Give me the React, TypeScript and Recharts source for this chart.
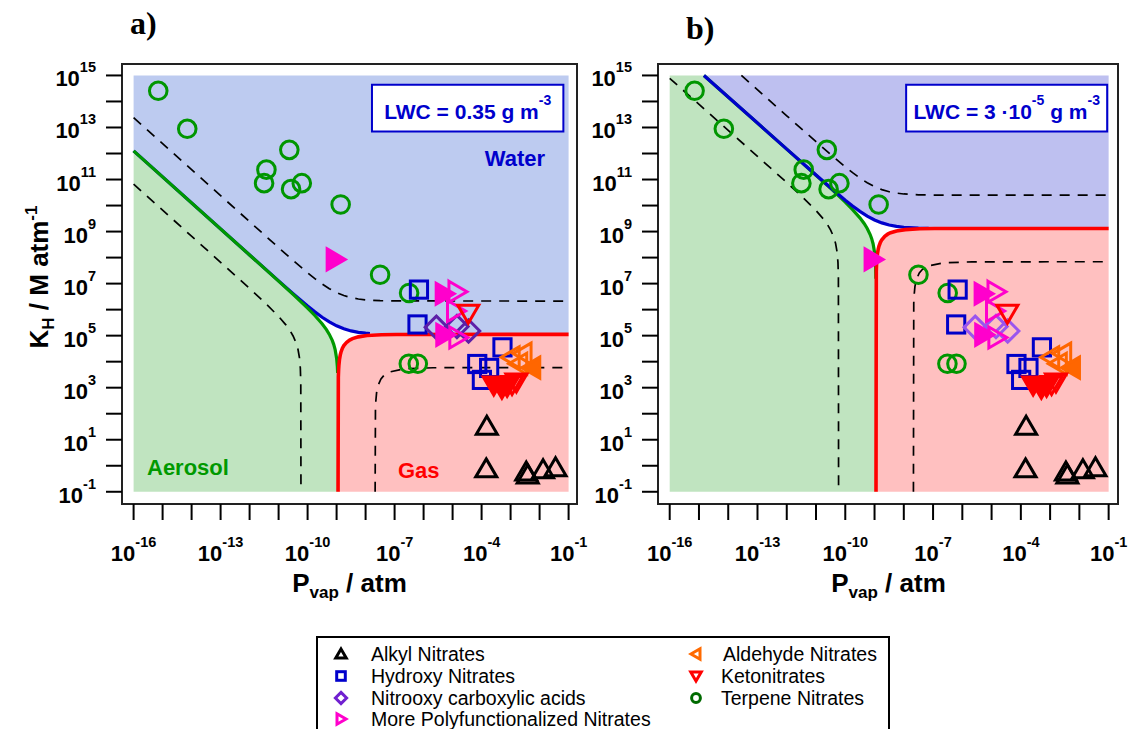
import React, { useLayoutEffect } from "react";
import { ComposedChart, XAxis, YAxis, Area, Line, Scatter, ReferenceArea } from "recharts";

type Pt = [number, number];

// ---------- axis ticks (log10 of the value) ----------
const xTickValues = [-16, -15, -14, -13, -12, -11, -10, -9, -8, -7, -6, -5, -4, -3, -2, -1];
const xTickLabels = [-16, -13, -10, -7, -4, -1];
const yTickValues = [-1, 0, 1, 2, 3, 4, 5, 6, 7, 8, 9, 10, 11, 12, 13, 14, 15];
const yTickLabels = [-1, 1, 3, 5, 7, 9, 11, 13, 15];
const yDomain: [number, number] = [-1.47, 15.44];

// ---------- compounds: [log10 Pvap, log10 KH] ----------
const alkylNitrates: Pt[] = [[-3.82, 1.52], [-3.84, -0.12], [-2.46, -0.24], [-2.41, -0.36], [-1.88, -0.15], [-1.45, -0.08]];
const hydroxyNitrates: Pt[] = [[-6.16, 6.77], [-6.21, 5.43], [-3.28, 4.55], [-4.15, 3.91], [-3.74, 3.76], [-3.99, 3.3]];
const nitrooxyAcids: Pt[] = [[-5.56, 5.32], [-4.85, 5.35], [-4.45, 5.18]];
const polyOpen: Pt[] = [[-4.85, 6.69], [-4.9, 5.95], [-4.82, 4.93]];
const polyFilled: Pt[] = [[-9.05, 7.93], [-5.29, 6.61], [-5.27, 5.03]];
const aldehydeOpen: Pt[] = [[-2.98, 4.17], [-2.57, 4.31], [-2.72, 3.92]];
const aldehydeFilled: Pt[] = [[-2.27, 3.77]];
const ketoOpen: Pt[] = [[-4.46, 5.86], [-2.95, 3.12], [-2.8, 3.22]];
const ketoFilled: Pt[] = [[-3.58, 3.1], [-3.3, 2.98], [-3.12, 3.05]];
const terpeneNitrates: Pt[] = [
  [-15.15, 14.41], [-14.15, 12.95], [-10.63, 12.14], [-11.42, 11.38], [-11.5, 10.86], [-10.2, 10.86],
  [-10.57, 10.63], [-8.86, 10.04], [-7.5, 7.34], [-6.5, 6.64], [-6.51, 3.92], [-6.2, 3.92],
];

// ---------- phase boundaries, panel a (LWC = 0.35 g m-3) ----------
const waterBoundaryA: Pt[] = [[-16, 12.1], [-12, 8.1], [-11, 7.104], [-10.5, 6.612], [-10, 6.137], [-9.75, 5.914], [-9.5, 5.708], [-9.25, 5.526], [-9.0, 5.377], [-8.75, 5.263], [-8.5, 5.182], [-8.25, 5.129], [-8.0, 5.096], [-7.85, 5.083], [-7.5, 5.065], [-7, 5.055], [-1, 5.05]];
const aerosolBoundaryA: Pt[] = [[-16, 12.1], [-12, 8.1], [-11, 7.096], [-10.5, 6.588], [-10, 6.06], [-9.75, 5.775], [-9.5, 5.456], [-9.35, 5.23], [-9.25, 5.048], [-9.15, 4.817], [-9.1, 4.666], [-9.05, 4.463], [-9.0, 4.136], [-8.975, 3.823], [-8.964, 3.565]];
const gasBoundaryA: Pt[] = [[-8.95, -1], [-8.94, 3.407], [-8.93, 3.703], [-8.92, 3.874], [-8.9, 4.086], [-8.875, 4.25], [-8.85, 4.363], [-8.8, 4.516], [-8.75, 4.617], [-8.65, 4.748], [-8.55, 4.83], [-8.45, 4.885], [-8.25, 4.953], [-7.95, 5.004], [-7.45, 5.036], [-6.95, 5.046], [-1, 5.05]];
const waterDashA: Pt[] = [[-16, 13.38], [-13, 10.38], [-11, 8.383], [-10.5, 7.891], [-10, 7.416], [-9.75, 7.193], [-9.5, 6.987], [-9.25, 6.805], [-9.0, 6.656], [-8.75, 6.542], [-8.5, 6.461], [-8.25, 6.408], [-8.0, 6.375], [-7.5, 6.344], [-7.0, 6.334], [-1, 6.329]];
const aerosolDashA: Pt[] = [[-16, 10.821], [-13, 7.82], [-12, 6.814], [-11.5, 6.297], [-11, 5.74], [-10.75, 5.415], [-10.6, 5.18], [-10.5, 4.988], [-10.4, 4.734], [-10.33, 4.468], [-10.28, 4.146], [-10.25, 3.745], [-10.235, 3.193], [-10.229, -1]];
const gasDashA: Pt[] = [[-7.671, -1], [-7.66, 2.169], [-7.65, 2.445], [-7.62, 2.816], [-7.57, 3.088], [-7.47, 3.339], [-7.37, 3.47], [-7.17, 3.606], [-6.67, 3.725], [-5.67, 3.767], [-1, 3.771]];

// ---------- phase boundaries, panel b (LWC = 3e-5 g m-3) ----------
const waterBoundaryB: Pt[] = [[-14.83, 15.0], [-13, 13.17], [-12, 12.17], [-11, 11.174], [-10.5, 10.682], [-10, 10.207], [-9.75, 9.984], [-9.5, 9.778], [-9.25, 9.596], [-9.0, 9.447], [-8.75, 9.333], [-8.5, 9.252], [-8.25, 9.199], [-8.0, 9.166], [-7.5, 9.135], [-7.15, 9.127], [-7, 9.125], [-6, 9.121], [-1, 9.12]];
const aerosolBoundaryB: Pt[] = [[-16, 15], [-14.83, 15.0], [-12, 12.17], [-11, 11.166], [-10.5, 10.658], [-10, 10.13], [-9.75, 9.845], [-9.5, 9.526], [-9.35, 9.3], [-9.25, 9.118], [-9.15, 8.887], [-9.1, 8.736], [-9.05, 8.533], [-9.0, 8.206], [-8.975, 7.893], [-8.964, 7.635], [-8.955, 7.184]];
const gasBoundaryB: Pt[] = [[-8.95, -1], [-8.94, 7.477], [-8.93, 7.773], [-8.92, 7.944], [-8.9, 8.156], [-8.875, 8.32], [-8.85, 8.433], [-8.8, 8.586], [-8.75, 8.687], [-8.65, 8.818], [-8.55, 8.9], [-8.45, 8.955], [-8.25, 9.023], [-7.95, 9.074], [-7.45, 9.106], [-6.95, 9.116], [-1, 9.12]];
const waterDashB: Pt[] = [[-13.55, 15.0], [-12, 13.449], [-11, 12.453], [-10.5, 11.961], [-10, 11.486], [-9.75, 11.263], [-9.5, 11.057], [-9.25, 10.875], [-9.0, 10.726], [-8.75, 10.612], [-8.5, 10.531], [-8.25, 10.478], [-8.0, 10.445], [-7.5, 10.414], [-7.0, 10.404], [-1, 10.399]];
const aerosolDashB: Pt[] = [[-16, 14.891], [-13, 11.89], [-12, 10.884], [-11.5, 10.367], [-11, 9.81], [-10.75, 9.485], [-10.6, 9.25], [-10.5, 9.058], [-10.4, 8.804], [-10.33, 8.538], [-10.28, 8.216], [-10.25, 7.815], [-10.235, 7.263], [-10.229, -1]];
const gasDashB: Pt[] = [[-7.671, -1], [-7.66, 6.239], [-7.65, 6.515], [-7.62, 6.886], [-7.57, 7.158], [-7.47, 7.409], [-7.37, 7.54], [-7.17, 7.676], [-6.67, 7.795], [-5.67, 7.837], [-1, 7.841]];

// ---------- legend ----------
const legendCol1 = ["Alkyl Nitrates", "Hydroxy Nitrates", "Nitrooxy carboxylic acids", "More Polyfunctionalized Nitrates"];
const legendCol2 = ["Aldehyde Nitrates", "Ketonitrates", "Terpene Nitrates"];

const FONT = '"Liberation Sans", Arial, Helvetica, sans-serif';
const SERIF = '"Liberation Serif", "Times New Roman", serif';
const SHADE_BOTTOM = -1;
const SHADE_TOP = 15;

const xy = (a: Pt[]) => a.map(([x, y]) => ({ x, y }));
const below = (a: Pt[]) => a.map(([x, y]) => ({ x, r: [SHADE_BOTTOM, y] }));
const above = (a: Pt[]) => a.map(([x, y]) => ({ x, r: [y, SHADE_TOP] }));

function Marker({ kind, cx, cy, color, filled, s = 1, sw = 3 }: any) {
  const f = filled ? color : "none";
  const common = { fill: f, stroke: color, strokeWidth: sw, strokeLinejoin: "miter" as const };
  switch (kind) {
    case "circle":
      return <circle cx={cx} cy={cy} r={8.8 * s} fill="none" stroke={color} strokeWidth={sw} />;
    case "square":
      return <rect x={cx - 8.6 * s} y={cy - 8.6 * s} width={17.2 * s} height={17.2 * s} {...common} />;
    case "diamond": {
      const r = 11.2 * s;
      return <polygon points={`${cx},${cy - r} ${cx + r},${cy} ${cx},${cy + r} ${cx - r},${cy}`} {...common} />;
    }
    case "up":
      return <polygon points={`${cx},${cy - 10 * s} ${cx + 10.5 * s},${cy + 8 * s} ${cx - 10.5 * s},${cy + 8 * s}`} {...common} />;
    case "down":
      return <polygon points={`${cx - 10.5 * s},${cy - 8 * s} ${cx + 10.5 * s},${cy - 8 * s} ${cx},${cy + 10 * s}`} {...common} />;
    case "right":
      return <polygon points={`${cx - 8 * s},${cy - 10.5 * s} ${cx + 10 * s},${cy} ${cx - 8 * s},${cy + 10.5 * s}`} {...common} />;
    case "left":
      return <polygon points={`${cx + 8 * s},${cy - 10.5 * s} ${cx - 10 * s},${cy} ${cx + 8 * s},${cy + 10.5 * s}`} {...common} />;
    default:
      return <g />;
  }
}

const shapeFor = (kind: string, color: string, filled = false) => (props: any) => {
  const { cx, cy } = props;
  if (typeof cx !== "number" || typeof cy !== "number") return <g />;
  return <Marker kind={kind} cx={cx} cy={cy} color={color} filled={filled} />;
};

const XTick = (p: any) => {
  const v = p.payload?.value;
  if (!xTickLabels.includes(v)) return <g />;
  return (
    <text x={p.x} y={p.y + 39} textAnchor="middle" fontFamily={FONT} fontWeight="bold" fontSize={22} fill="#000">
      10<tspan dy={-14} fontSize={14.5}>{String(v)}</tspan>
    </text>
  );
};

const YTick = (p: any) => {
  const v = p.payload?.value;
  if (!yTickLabels.includes(v)) return <g />;
  return (
    <text x={p.x - 8} y={p.y + 11} textAnchor="end" fontFamily={FONT} fontWeight="bold" fontSize={22} fill="#000">
      10<tspan dy={-14} fontSize={14.5}>{String(v)}</tspan>
    </text>
  );
};

const BLUE = "#0000cc";
const GREEN_LINE = "#009900";
const RED = "#ff0000";

function LwcA(props: any) {
  const vb = props.viewBox || {};
  const cx = vb.x + vb.width / 2;
  const cy = vb.y + vb.height / 2;
  return (
    <text x={cx} y={cy + 11} textAnchor="middle" fontFamily={FONT} fontWeight="bold" fontSize={21} fill={BLUE}>
      LWC = 0.35 g m<tspan dy={-14} fontSize={14}>-3</tspan>
    </text>
  );
}

function LwcB(props: any) {
  const vb = props.viewBox || {};
  const cx = vb.x + vb.width / 2;
  const cy = vb.y + vb.height / 2;
  return (
    <text x={cx} y={cy + 11} textAnchor="middle" fontFamily={FONT} fontWeight="bold" fontSize={21} fill={BLUE}>
      LWC = 3 ·10<tspan dy={-14} fontSize={14}>-5</tspan>
      <tspan dy={14} fontSize={21}> g m</tspan>
      <tspan dy={-14} fontSize={14}>-3</tspan>
    </text>
  );
}

type PanelCfg = {
  left: number;
  width: number;
  marginRight: number;
  yAxisWidth: number;
  xDomain: [number, number];
  waterColor: string;
  diamondColor: string;
  waterBoundary: Pt[];
  waterLineEnd: number;
  aerosolBoundary: Pt[];
  aerosolLineStart: number;
  gasBoundary: Pt[];
  waterDash: Pt[];
  aerosolDash: Pt[];
  gasDash: Pt[];
  box: [number, number, number, number];
  boxLabel: (p: any) => any;
  blueOnTop: boolean;
};

function Panel({ c }: { c: PanelCfg }) {
  const blueLine = (
    <Line key="bl" data={xy(c.waterBoundary.filter(([x]) => x <= c.waterLineEnd))} dataKey="y" type="linear" stroke={BLUE} strokeWidth={3.2} dot={false} activeDot={false} isAnimationActive={false} />
  );
  const greenLine = (
    <Line key="gl" data={xy(c.aerosolBoundary.filter(([x]) => x >= c.aerosolLineStart))} dataKey="y" type="linear" stroke={GREEN_LINE} strokeWidth={3.2} dot={false} activeDot={false} isAnimationActive={false} />
  );
  const dash = { type: "linear" as const, stroke: "#000", strokeWidth: 1.7, strokeDasharray: "10 8", dot: false, activeDot: false, isAnimationActive: false };
  return (
    <div style={{ position: "absolute", left: c.left, top: 0 }}>
      <ComposedChart width={c.width} height={620} margin={{ top: 64, right: c.marginRight, bottom: 0, left: 0 }}>
        <XAxis type="number" dataKey="x" domain={c.xDomain} allowDataOverflow ticks={xTickValues} interval={0} tickSize={16} stroke="#000" tickLine={{ stroke: "#000", strokeWidth: 2 }} axisLine={false} height={116} tick={(p: any) => <XTick {...p} />} />
        <YAxis type="number" dataKey="y" domain={yDomain} allowDataOverflow ticks={yTickValues} interval={0} tickSize={16} stroke="#000" tickLine={{ stroke: "#000", strokeWidth: 2 }} axisLine={false} width={c.yAxisWidth} tick={(p: any) => <YTick {...p} />} />

        <Area data={above(c.waterBoundary)} dataKey="r" type="linear" fill={c.waterColor} fillOpacity={1} stroke="none" dot={false} activeDot={false} isAnimationActive={false} />
        <Area data={below([...c.aerosolBoundary, [-8.95, SHADE_BOTTOM] as Pt])} dataKey="r" type="linear" fill="#c0e4c0" fillOpacity={1} stroke="none" dot={false} activeDot={false} isAnimationActive={false} />
        <Area data={below(c.gasBoundary)} dataKey="r" type="linear" fill="#ffc0c0" fillOpacity={1} stroke="none" dot={false} activeDot={false} isAnimationActive={false} />

        <Line data={xy(c.waterDash)} dataKey="y" {...dash} />
        <Line data={xy(c.aerosolDash)} dataKey="y" {...dash} />
        <Line data={xy(c.gasDash)} dataKey="y" {...dash} />

        {c.blueOnTop ? greenLine : blueLine}
        {c.blueOnTop ? blueLine : greenLine}
        <Line data={xy(c.gasBoundary)} dataKey="y" type="linear" stroke={RED} strokeWidth={3.6} dot={false} activeDot={false} isAnimationActive={false} />

        <Scatter data={xy(terpeneNitrates)} shape={shapeFor("circle", "#009600")} isAnimationActive={false} />
        <Scatter data={xy(alkylNitrates)} shape={shapeFor("up", "#000")} isAnimationActive={false} />
        <Scatter data={xy(hydroxyNitrates)} shape={shapeFor("square", "#0000c8")} isAnimationActive={false} />
        <Scatter data={xy(nitrooxyAcids)} shape={shapeFor("diamond", c.diamondColor)} isAnimationActive={false} />
        <Scatter data={xy(polyOpen)} shape={shapeFor("right", "#ff00cc")} isAnimationActive={false} />
        <Scatter data={xy(polyFilled)} shape={shapeFor("right", "#ff00cc", true)} isAnimationActive={false} />
        <Scatter data={xy(aldehydeOpen)} shape={shapeFor("left", "#ff6600")} isAnimationActive={false} />
        <Scatter data={xy(aldehydeFilled)} shape={shapeFor("left", "#ff6600", true)} isAnimationActive={false} />
        <Scatter data={xy(ketoOpen)} shape={shapeFor("down", RED)} isAnimationActive={false} />
        <Scatter data={xy(ketoFilled)} shape={shapeFor("down", RED, true)} isAnimationActive={false} />

        <ReferenceArea x1={c.box[0]} x2={c.box[1]} y1={c.box[2]} y2={c.box[3]} fill="#ffffff" fillOpacity={1} stroke={BLUE} strokeWidth={2} ifOverflow="visible" label={c.boxLabel} />
        <ReferenceArea x1={c.xDomain[0]} x2={c.xDomain[1]} y1={yDomain[0]} y2={yDomain[1]} fill="none" stroke="#222" strokeWidth={2} ifOverflow="visible" />
      </ComposedChart>
    </div>
  );
}

const panelA: PanelCfg = {
  left: 0, width: 600, marginRight: 23, yAxisWidth: 122, xDomain: [-16.4, -0.71],
  waterColor: "#bdcbf0", diamondColor: "#5c1fa8",
  waterBoundary: waterBoundaryA, waterLineEnd: -7.85,
  aerosolBoundary: aerosolBoundaryA, aerosolLineStart: -16,
  gasBoundary: gasBoundaryA, waterDash: waterDashA, aerosolDash: aerosolDashA, gasDash: gasDashA,
  box: [-7.78, -1.18, 12.85, 14.64], boxLabel: (p: any) => <LwcA {...p} />, blueOnTop: false,
};

const panelB: PanelCfg = {
  left: 580, width: 548, marginRight: 10, yAxisWidth: 78, xDomain: [-16.4, -0.68],
  waterColor: "#bec0f0", diamondColor: "#9a55ee",
  waterBoundary: waterBoundaryB, waterLineEnd: -7.15,
  aerosolBoundary: aerosolBoundaryB, aerosolLineStart: -14.83,
  gasBoundary: gasBoundaryB, waterDash: waterDashB, aerosolDash: aerosolDashB, gasDash: gasDashB,
  box: [-7.92, -1.05, 12.85, 14.64], boxLabel: (p: any) => <LwcB {...p} />, blueOnTop: true,
};

const legendMarkers1 = [
  { kind: "up", color: "#000" },
  { kind: "square", color: "#0000cc" },
  { kind: "diamond", color: "#7020d0" },
  { kind: "right", color: "#ff00cc" },
];
const legendMarkers2 = [
  { kind: "left", color: "#ff6a00" },
  { kind: "down", color: "#ff0000" },
  { kind: "circle", color: "#006a00" },
];

function Overlay() {
  const rowY = [654, 676, 698, 719];
  return (
    <svg width={1128} height={729} style={{ position: "absolute", left: 0, top: 0, pointerEvents: "none" }}>
      <text x={130} y={34} fontFamily={SERIF} fontWeight="bold" fontSize={32}>a)</text>
      <text x={686} y={39} fontFamily={SERIF} fontWeight="bold" fontSize={32}>b)</text>

      <text transform="translate(48,277) rotate(-90)" textAnchor="middle" fontFamily={FONT} fontWeight="bold" fontSize={26} fill="#000">
        K<tspan dy={6} fontSize={17}>H</tspan><tspan dy={-6}> / M atm</tspan><tspan dy={-11} fontSize={17}>-1</tspan>
      </text>
      <text x={349.5} y={592} textAnchor="middle" fontFamily={FONT} fontWeight="bold" fontSize={26} fill="#000">
        P<tspan dy={6} fontSize={17}>vap</tspan><tspan dy={-6}> / atm</tspan>
      </text>
      <text x={888.5} y={592} textAnchor="middle" fontFamily={FONT} fontWeight="bold" fontSize={26} fill="#000">
        P<tspan dy={6} fontSize={17}>vap</tspan><tspan dy={-6}> / atm</tspan>
      </text>

      <text x={515} y={166} textAnchor="middle" fontFamily={FONT} fontWeight="bold" fontSize={22} fill={BLUE}>Water</text>
      <text x={147} y={475} fontFamily={FONT} fontWeight="bold" fontSize={22} fill="#009900">Aerosol</text>
      <text x={398} y={478} fontFamily={FONT} fontWeight="bold" fontSize={22} fill="#ff0000">Gas</text>

      <rect x={317} y={637} width={572} height={110} fill="#fff" stroke="#000" strokeWidth={2} />
      {legendCol1.map((t, i) => (
        <g key={"l1" + i}>
          <Marker kind={legendMarkers1[i].kind} cx={341} cy={rowY[i]} color={legendMarkers1[i].color} s={0.5} sw={3} />
          <text x={371} y={rowY[i] + 7} fontFamily={FONT} fontSize={19.5} fill="#000">{t}</text>
        </g>
      ))}
      {legendCol2.map((t, i) => (
        <g key={"l2" + i}>
          <Marker kind={legendMarkers2[i].kind} cx={696} cy={rowY[i]} color={legendMarkers2[i].color} s={0.5} sw={3} />
          <text x={i === 0 ? 723 : 721} y={rowY[i] + 7} fontFamily={FONT} fontSize={19.5} fill="#000">{t}</text>
        </g>
      ))}
    </svg>
  );
}

export default function App() {
  useLayoutEffect(() => {
    document.body.style.margin = "0";
  }, []);
  return (
    <div style={{ position: "relative", width: 1128, height: 729, background: "#fff", overflow: "hidden" }}>
      <Panel c={panelA} />
      <Panel c={panelB} />
      <Overlay />
    </div>
  );
}
